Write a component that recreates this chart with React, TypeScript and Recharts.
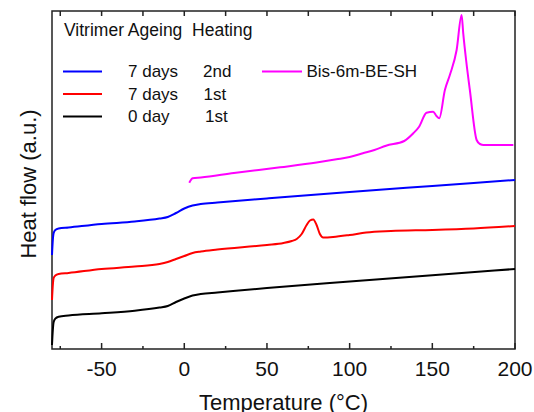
import { LineChart, Line, XAxis, YAxis, ReferenceArea, ReferenceLine } from 'recharts';

const FONT = '"Liberation Sans", Arial, sans-serif';
const AXIS = '#222';

// temperatures (°C) and heat flow (a.u.)
const day0Temp = [-80, -79.5, -79, -78, -76, -70, -50, -30, -15, -10, -5, 0, 5, 10, 20, 50, 100, 150, 200];
const day0Flow = [4, 19, 27, 30.3, 32.3, 33.5, 35.7, 38.3, 41.5, 43, 47, 50.5, 53.5, 55, 56.5, 61, 67.5, 73.8, 80];

const day7SecondTemp = [-80, -79.5, -79, -78, -76, -70, -50, -30, -15, -10, -5, 0, 5, 10, 20, 50, 100, 150, 200];
const day7SecondFlow = [94, 109, 116, 119, 120.5, 121.5, 125, 127.5, 130.5, 132, 136, 140.5, 143.5, 145, 146.5, 150.5, 157, 163, 169];

const day7FirstTemp = [-80, -79.5, -79, -78, -76, -70, -50, -30, -15, -10, -5, 0, 5, 10, 20, 50, 60, 65, 68, 71, 74, 76, 78, 80, 82, 84, 90, 100, 110, 125, 150, 175, 200];
const day7FirstFlow = [49, 64, 71, 73.5, 75, 76, 80, 82.5, 85, 87, 90, 93, 96, 97.5, 99.5, 104, 106, 108, 110, 115, 124, 128.5, 129.5, 124, 115, 111.5, 112, 114, 116.5, 118, 119, 120.5, 123];

const bisTemp = [3, 4, 5, 10, 30, 58, 80, 92, 100, 108, 115, 122, 133, 138.5, 142, 146.5, 150.5, 152.5, 154.2, 157.6, 160.6, 164.7, 167.7, 168.7, 170.5, 172.7, 176.8, 178.8, 181, 190, 199];
const bisFlow = [166.3, 169, 170.7, 171.5, 176, 181.7, 186.5, 189.7, 192, 195.7, 199, 203.3, 208, 215.7, 222.3, 236.3, 237.3, 233, 230.7, 259, 274, 299, 334, 315.7, 288, 259, 209, 205, 204, 204, 204];

const xTicks = [-75, -50, -25, 0, 25, 50, 75, 100, 125, 150, 175, 200];
const yMax = 338;

const series = [
  { name: '7 days 2nd', color: '#0000ff', temp: day7SecondTemp, flow: day7SecondFlow },
  { name: '7 days 1st', color: '#ff0000', temp: day7FirstTemp, flow: day7FirstFlow },
  { name: '0 day 1st', color: '#000000', temp: day0Temp, flow: day0Flow },
  { name: 'Bis-6m-BE-SH', color: '#ff00ff', temp: bisTemp, flow: bisFlow },
];

const zip = (t: number[], v: number[]) => t.map((x, i) => ({ t: x, v: v[i] }));
const isMajor = (t: number) => t % 50 === 0;

function BottomTick({ x, y, payload }: any) {
  if (!isMajor(payload.value)) return <g />;
  return (
    <text x={x} y={y + 27} textAnchor="middle" fontSize={21} fontFamily={FONT} fill="#111">
      {payload.value}
    </text>
  );
}

export default function App() {
  const txt = { fontSize: 17, fontFamily: FONT, fill: '#111' };
  return (
    <div style={{ position: 'absolute', left: 0, top: 0, width: 534, height: 412, background: '#fff' }}>
      <LineChart width={534} height={412} margin={{ top: 11, right: 19, left: 52, bottom: 0 }}>
        <XAxis
          type="number"
          dataKey="t"
          domain={[-80, 200]}
          ticks={xTicks}
          interval={0}
          height={63}
          tickSize={0}
          tickMargin={0}
          tickLine={false}
          tick={<BottomTick />}
          axisLine={false}
          label={{ value: 'Temperature (°C)', position: 'insideBottom', offset: 2, fontSize: 22, fontFamily: FONT, fill: '#111' }}
        />
        <YAxis type="number" domain={[0, yMax]} hide />
        {/* frame */}
        <ReferenceArea x1={-80} x2={200} y1={0} y2={yMax} stroke={AXIS} strokeWidth={1.5} fill="none" ifOverflow="visible" />
        {/* inward ticks, bottom and top */}
        {xTicks.map((t) => (
          <ReferenceLine
            key={'b' + t}
            segment={[{ x: t, y: 0 }, { x: t, y: isMajor(t) ? 6 : 3 }]}
            stroke={AXIS}
            strokeWidth={1.5}
            ifOverflow="visible"
          />
        ))}
        {xTicks.map((t) => (
          <ReferenceLine
            key={'t' + t}
            segment={[{ x: t, y: yMax - 5 }, { x: t, y: yMax }]}
            stroke={AXIS}
            strokeWidth={1.5}
            ifOverflow="visible"
          />
        ))}
        {series.map((s) => (
          <Line
            key={s.name}
            data={zip(s.temp, s.flow)}
            dataKey="v"
            type="monotone"
            stroke={s.color}
            strokeWidth={2}
            dot={false}
            isAnimationActive={false}
          />
        ))}
      </LineChart>
      <svg width={534} height={412} style={{ position: 'absolute', left: 0, top: 0, pointerEvents: 'none' }}>
        <text x={36} y={184} transform="rotate(-90 36 184)" textAnchor="middle" fontSize={22} fontFamily={FONT} fill="#111">
          Heat flow (a.u.)
        </text>
        <text x={64} y={35.5} {...txt} fontSize={17.5} xmlSpace="preserve">Vitrimer Ageing  Heating</text>
        {[
          { c: series[0].color, a: '7 days', b: '2nd', bx: 203 },
          { c: series[1].color, a: '7 days', b: '1st', bx: 203.5 },
          { c: series[2].color, a: '0 day', b: '1st', bx: 205 },
        ].map((r, i) => {
          const base = 77 + i * 22.5;
          return (
            <g key={i}>
              <line x1={63} x2={102} y1={base - 5.5} y2={base - 5.5} stroke={r.c} strokeWidth={2} />
              <text x={128} y={base} {...txt}>{r.a}</text>
              <text x={r.bx} y={base} {...txt}>{r.b}</text>
            </g>
          );
        })}
        <line x1={262} x2={302} y1={71.5} y2={71.5} stroke={series[3].color} strokeWidth={2} />
        <text x={306.5} y={77} {...txt}>Bis-6m-BE-SH</text>
      </svg>
    </div>
  );
}
